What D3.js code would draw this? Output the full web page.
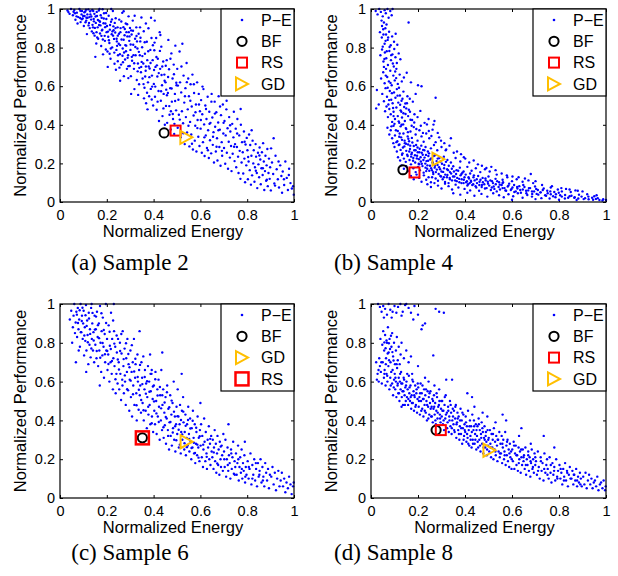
<!DOCTYPE html>
<html><head><meta charset="utf-8">
<script src="https://cdn.jsdelivr.net/npm/d3@7"></script>
<style>body{margin:0;background:#fff}</style></head>
<body><svg id="c" width="618" height="576"></svg>
<script>
// P-E scatter samples: flat pairs [energy, performance] in thousandths
const sample2PE=[32,992,41,975,47,1000,36,984,
55,968,61,995,66,944,72,981,78,958,83,1000,88,932,92,972,97,951,58,986,75,925,94,990,
102,912,105,964,108,987,112,940,115,870,118,955,121,998,124,928,127,901,130,972,133,945,136,884,139,918,142,990,145,936,148,862,111,996,126,958,141,905,147,975,
151,752,153,928,156,880,158,964,161,905,163,846,166,992,168,938,171,873,173,915,176,808,178,955,181,893,183,842,186,926,188,978,191,861,193,906,196,790,198,948,155,821,169,1000,184,765,192,835,199,880,
201,912,203,780,206,856,208,965,211,824,213,893,216,742,218,934,221,869,223,801,226,990,228,910,231,845,233,716,236,878,238,952,241,788,243,832,246,905,248,760,204,700,219,1000,229,890,239,685,247,862,
251,820,253,945,256,766,258,880,261,712,263,842,266,980,268,795,271,906,273,652,276,864,278,738,281,925,283,810,286,690,288,858,291,760,293,962,296,835,298,705,257,628,272,988,284,880,292,642,299,902,
301,788,303,652,306,868,308,732,311,940,313,815,316,690,318,585,321,846,323,760,326,905,328,632,331,795,333,718,336,872,338,610,341,760,343,832,346,672,348,956,304,560,319,965,334,555,342,905,349,726,
351,802,353,640,356,718,358,885,361,592,363,768,366,680,368,512,371,830,373,735,376,620,378,900,381,548,383,692,386,788,388,586,391,850,393,655,396,735,398,500,367,925,389,955,374,480,
401,612,403,786,406,545,408,700,411,850,413,478,416,650,418,742,421,575,423,420,426,880,428,690,431,525,433,805,436,605,438,445,441,728,443,560,446,660,448,400,405,940,429,865,
451,620,453,498,456,735,458,410,461,565,463,840,466,688,468,452,471,590,473,376,476,770,478,520,481,640,483,430,486,712,488,352,491,560,493,810,496,475,498,605,
501,690,503,385,506,530,508,452,511,780,513,620,516,335,518,568,521,470,523,820,526,408,528,655,531,515,533,300,536,590,538,440,541,720,543,360,546,480,548,640,
551,548,553,288,556,415,558,610,561,350,563,495,566,660,568,272,571,448,573,565,576,318,578,395,581,505,583,262,586,620,588,425,591,338,593,560,596,290,598,470,
601,380,603,528,606,255,608,455,611,310,613,585,616,402,618,238,621,500,623,345,626,430,628,280,631,545,633,372,636,228,638,468,641,320,643,410,646,252,648,560,
651,438,653,296,656,362,658,205,661,520,663,390,666,262,668,465,671,330,673,215,676,412,678,548,681,285,683,375,686,188,688,450,691,310,693,240,696,505,698,355,
701,280,703,420,706,198,708,345,711,480,713,255,716,382,718,172,721,312,723,440,726,230,728,365,731,290,733,160,736,405,738,250,741,335,743,468,746,212,748,300,
751,380,753,180,756,285,758,430,761,235,763,150,766,345,768,265,771,120,773,400,776,205,778,310,781,258,783,148,786,365,788,225,791,102,793,298,796,190,798,332,
801,268,803,118,806,210,808,350,811,165,813,295,816,90,818,240,821,138,823,318,826,200,828,268,831,105,833,180,836,300,838,235,841,150,843,72,846,255,848,195,
851,128,853,282,856,220,858,92,861,175,863,258,866,140,868,305,871,210,873,62,876,160,878,240,881,110,883,190,886,275,888,82,891,150,893,225,896,120,898,180,
901,60,906,205,911,145,916,96,921,240,926,170,931,118,936,75,941,190,946,135,949,48,913,330,
952,158,958,88,963,210,969,125,974,62,979,172,985,98,991,70,996,82,999,38,
64,978,71,962,87,991,93,947,104,983,109,931,117,972,122,915,134,961,138,995,144,948,149,902,157,985,162,943,167,917,174,968,179,889,187,951,194,925,197,979,113,955,129,988,152,961,171,934,182,999,99,964,86,953,143,874,159,852,177,861,
205,883,209,838,214,917,217,795,222,946,227,862,232,774,237,901,242,846,247,729,252,872,257,813,262,935,267,758,272,841,277,896,282,781,287,921,292,704,297,858,302,816,307,752,312,887,317,719,322,803,327,860,332,677,337,778,344,851,347,700,212,768,224,884,244,809,259,901,269,724,279,813,289,747,304,889,314,761,329,832,339,695,234,928,254,696,274,775,294,880,
352,756,357,611,362,828,367,702,372,566,377,781,382,647,387,720,392,531,397,812,402,684,407,598,412,751,417,520,422,668,427,783,432,574,437,702,442,485,447,628,452,706,457,553,462,648,467,497,472,742,477,588,482,456,487,662,492,523,497,618,359,537,379,702,394,598,414,708,434,658,454,582,474,470,489,405,364,650,404,826,
504,603,512,427,519,702,527,356,534,548,542,621,549,395,557,525,564,302,572,610,579,465,587,383,594,505,602,425,609,598,617,335,624,482,632,268,639,405,647,520,654,338,662,458,669,286,677,372,684,495,692,265,699,410,
712,525,727,398,744,286,757,355,772,482,789,312,804,233,819,372,837,162,852,241,867,175,884,115,902,278,919,85,934,210,957,118,978,140];

const sample4PE=[20,990,28,972,35,1000,42,985,50,962,58,994,63,978,70,1000,75,955,82,990,88,968,45,940,66,920,92,1000,55,930,
38,880,46,852,52,895,58,820,64,868,71,840,77,882,84,812,90,858,98,830,105,872,61,900,112,815,160,930,50,805,
40,760,47,790,53,728,59,775,65,745,72,710,78,782,85,735,91,765,97,702,104,750,110,720,118,770,125,740,55,700,
43,640,52,672,58,615,64,690,69,648,76,625,82,680,88,605,95,655,101,630,108,690,114,612,122,660,131,625,140,645,152,670,200,605,215,600,170,620,
25,580,48,560,55,522,62,590,68,545,74,505,80,575,86,530,92,512,98,568,104,540,110,585,116,515,123,552,130,525,138,572,146,510,155,548,165,535,178,520,190,560,22,485,33,505,275,540,
60,470,66,495,72,440,78,482,84,455,90,415,96,468,102,430,108,490,114,445,120,410,126,475,132,438,138,460,144,420,150,485,158,445,166,468,175,425,185,455,198,440,210,472,228,410,245,430,270,420,100,405,
70,385,78,350,84,372,90,330,96,395,102,345,108,310,114,368,120,338,126,392,132,322,138,355,144,305,150,378,156,340,162,315,168,365,174,332,182,388,190,350,198,318,206,372,215,340,224,312,235,355,248,330,262,375,275,310,290,335,95,305,130,400,
100,285,110,262,118,295,126,270,134,252,142,288,150,265,158,298,166,275,174,255,182,290,190,268,198,282,206,258,214,292,222,270,232,285,242,262,255,278,268,295,282,268,300,285,320,272,340,330,
115,232,124,215,132,245,140,225,148,208,156,238,164,218,172,248,180,228,188,205,196,240,204,222,212,210,220,245,228,230,236,212,244,238,252,220,262,205,272,242,284,225,296,210,310,235,325,218,340,205,360,228,380,210,395,232,
130,190,140,172,150,185,160,160,170,195,180,175,190,155,200,182,208,165,216,198,224,152,232,178,240,190,248,162,256,175,264,155,272,188,280,168,290,180,300,158,312,192,324,170,336,155,350,185,364,165,378,178,394,158,410,182,428,162,446,175,465,155,485,170,505,158,530,165,205,195,235,160,
170,135,182,118,194,142,205,125,215,105,225,138,235,115,245,128,255,102,265,145,275,122,285,110,295,135,305,118,315,104,325,140,335,125,345,112,355,132,365,108,375,120,385,145,395,115,405,102,415,128,425,110,438,138,450,118,462,105,475,125,488,112,500,132,515,108,530,120,545,102,560,115,580,128,600,108,620,118,645,105,670,112,700,108,680,145,260,128,310,128,
240,92,255,78,270,98,285,85,300,70,315,95,330,82,345,65,360,90,372,75,385,98,398,68,410,85,422,60,435,92,448,75,460,58,472,88,485,70,498,95,510,62,522,80,535,55,548,90,560,72,572,60,585,85,598,68,610,52,622,78,635,62,648,88,660,58,672,72,685,55,698,80,710,62,722,50,735,70,750,58,765,75,780,52,795,65,812,55,830,68,850,52,870,60,900,55,330,98,420,98,560,98,
350,45,380,38,410,48,440,32,470,42,495,28,520,45,545,35,565,25,585,40,605,30,625,45,645,22,665,36,685,28,705,42,725,20,745,32,765,40,785,25,805,35,825,18,845,30,865,22,885,38,905,15,925,28,945,12,965,20,985,8,1000,10,950,30,875,10,800,12,700,15,600,12,760,18,
47,912,53,868,62,835,67,781,73,852,79,803,86,761,93,718,99,793,103,676,57,741,63,655,71,592,77,528,83,617,89,564,94,487,107,642,113,551,119,592,124,504,129,468,134,535,141,492,147,456,153,512,161,478,168,426,96,445,118,418,87,392,106,372,122,355,137,402,148,383,157,362,173,395,184,412,193,378,
112,315,121,298,128,335,136,282,143,318,149,302,154,245,159,328,163,262,167,292,171,235,176,308,179,214,184,268,187,242,192,295,195,226,199,258,203,198,207,276,211,232,216,255,219,186,223,218,227,268,231,199,234,244,239,172,243,214,247,252,251,188,256,226,259,165,263,203,267,238,271,178,276,155,279,212,283,192,288,145,291,228,294,170,298,132,302,198,307,156,311,175,316,142,319,208,323,128,328,165,331,188,336,118,341,148,344,172,349,132,353,158,358,112,362,145,367,125,371,162,376,102,381,138,386,118,389,152,394,98,398,128,403,142,408,108,413,92,417,122,422,148,426,105,431,88,436,128,441,112,445,82,451,98,456,135,461,88,466,115,471,78,476,102,482,92,487,122,492,72,497,105,503,85,508,112,514,75,519,98,525,68,531,92,537,108,543,78,549,65,556,88,562,102,568,72,575,58,582,80,588,95,595,62,602,75,609,88,616,55,623,70,631,82,638,48,646,65,653,78,661,45,669,60,677,72,686,42,694,55,703,68,712,38,721,50,731,62,741,35,752,45,763,55,775,30,787,40,799,48,812,28,826,36,839,22,853,32,867,25,882,18,896,28,911,20,926,14,941,22,957,16,972,10,988,14,
212,395,221,358,238,402,246,368,257,342,266,401,284,358,298,318,312,305,318,268,334,292,352,255,366,262,383,248,401,225,418,205,437,215,455,195,472,188,491,176,512,182,535,142,556,148,578,138,602,132,628,128,655,122,690,98,728,88,770,82,810,72,845,65,880,58,920,40,960,35];

const sample6PE=[42,920,48,965,52,800,55,880,58,940,61,1000,64,850,67,905,70,960,73,830,76,980,79,870,82,920,85,780,88,1000,91,855,94,940,97,820,99,900,68,700,80,760,
101,965,103,735,106,880,108,810,111,995,113,760,116,915,118,840,121,690,123,955,126,790,128,870,131,725,133,980,136,820,138,900,141,760,143,855,146,700,148,940,112,650,135,1000,
151,790,153,870,156,720,158,960,161,830,163,680,166,900,168,760,171,990,173,800,176,650,178,860,181,735,183,930,186,780,188,620,191,845,193,700,196,1000,198,760,170,580,
201,820,203,660,206,740,208,890,211,600,213,785,216,700,218,955,221,640,223,820,226,560,228,720,231,860,233,680,236,780,238,540,241,640,243,750,246,590,248,820,230,1000,
251,700,253,560,256,800,258,640,261,505,263,745,266,610,268,860,271,680,273,540,276,770,278,600,281,480,283,720,286,650,288,820,291,555,293,690,296,450,298,610,
301,760,303,520,306,650,308,420,311,700,313,580,316,820,318,480,321,620,323,690,326,540,328,400,331,740,333,600,336,455,338,660,341,530,343,580,346,440,348,700,340,860,
351,620,353,490,356,730,358,400,361,560,363,660,366,450,368,590,371,360,373,520,376,680,378,430,381,600,383,480,386,380,388,550,391,640,393,420,396,510,398,340,385,740,392,660,
401,580,403,450,406,380,408,650,411,500,413,330,416,560,418,420,421,610,423,470,426,300,428,530,431,400,433,660,436,350,438,480,441,560,443,310,446,440,448,375,437,750,
451,520,453,280,456,410,458,580,461,350,463,460,466,250,468,390,471,530,473,320,476,430,478,270,481,490,483,360,486,600,488,300,491,420,493,240,496,380,498,470,
501,330,503,560,506,420,508,260,511,380,513,480,516,230,518,340,521,450,523,300,526,520,528,390,531,250,533,340,536,430,538,220,541,310,543,380,546,270,548,470,520,640,
551,330,553,240,556,410,558,290,561,200,563,360,566,260,568,450,571,310,573,230,576,380,578,180,581,280,583,340,586,220,588,420,591,260,593,310,596,190,598,350,600,490,
601,270,603,380,606,210,608,320,611,160,613,250,616,410,618,290,621,190,623,340,626,230,628,150,631,300,633,260,636,370,638,200,641,280,643,170,646,320,648,240,
651,210,653,300,656,150,658,260,661,350,663,190,666,280,668,130,671,230,673,320,676,170,678,250,681,120,683,290,686,200,688,160,691,270,693,220,696,140,698,330,
701,240,704,160,707,300,710,110,713,200,716,260,719,140,722,220,725,180,728,100,731,250,734,150,737,210,740,290,743,125,746,190,749,160,720,380,
752,230,755,120,758,180,761,270,764,90,767,160,770,210,773,130,776,250,779,100,782,180,785,140,788,220,791,80,794,160,797,120,790,290,
802,190,806,100,810,150,814,230,818,70,822,170,826,120,830,200,834,90,838,150,842,60,846,180,849,110,
853,140,857,200,861,80,865,160,869,110,873,60,877,180,881,130,885,90,889,150,893,50,897,120,
903,110,908,160,913,70,918,130,923,40,928,100,933,140,938,60,943,90,948,130,
953,60,958,100,963,30,968,80,974,50,979,110,985,70,990,20,996,60,999,80,
72,945,77,902,84,968,89,855,93,912,96,981,104,838,109,942,114,887,119,803,124,925,129,846,134,771,139,954,144,812,149,868,154,935,157,758,162,891,167,824,172,723,177,952,182,799,187,866,192,741,197,902,202,758,207,691,212,857,217,768,222,706,227,915,232,796,237,612,242,838,247,714,252,662,257,758,262,845,267,580,272,716,277,632,282,798,287,561,292,742,297,674,302,605,307,788,312,535,317,652,322,718,327,478,332,624,337,558,342,686,347,505,352,587,357,452,362,624,367,538,372,602,377,470,382,548,387,640,392,385,397,575,402,498,407,612,412,436,417,528,422,392,427,572,432,462,437,530,442,365,447,492,452,418,457,545,462,320,467,468,472,392,477,502,482,338,487,445,492,370,497,298,502,422,507,352,512,275,517,402,522,328,527,445,532,282,537,372,542,262,547,402,552,305,557,358,562,258,567,398,572,285,577,232,582,362,587,275,592,208,597,318,612,275,627,212,642,305,657,235,672,178,687,265,702,200,717,170,732,230,747,120,762,200,777,150,792,110,807,160,822,100,837,180,852,120,867,90];

const sample8PE=[30,1000,38,985,45,960,52,990,60,975,68,945,75,1000,82,970,92,960,100,990,108,955,115,985,125,1000,135,960,145,995,150,1000,160,980,170,955,185,990,200,945,215,870,220,890,265,735,275,975,290,960,310,955,55,930,88,930,130,940,180,920,230,900,
40,820,48,790,52,860,56,760,60,840,64,720,68,800,72,880,75,750,79,820,83,700,87,780,90,850,94,730,98,800,102,690,106,760,110,830,114,710,118,780,122,690,126,740,130,800,140,720,150,760,160,700,170,730,200,680,
22,700,28,640,33,600,38,680,42,650,46,590,50,700,55,620,58,660,62,580,66,640,70,600,74,680,78,560,82,620,86,650,90,590,94,530,98,610,25,610,35,720,
101,640,103,560,106,600,108,520,111,670,113,580,116,540,118,620,121,500,123,600,126,560,128,650,131,520,133,590,136,480,138,550,141,610,143,530,146,570,148,500,130,470,
151,600,153,520,156,560,158,480,161,630,163,540,166,500,168,580,171,460,173,530,176,610,178,490,181,550,183,450,186,520,188,580,191,480,193,540,196,440,198,510,175,640,
201,570,203,470,206,520,208,430,211,590,213,500,216,540,218,460,221,510,223,420,226,560,228,480,231,530,233,440,236,500,238,400,241,550,243,470,246,520,248,430,230,620,245,600,
251,490,253,550,256,420,258,470,261,510,263,390,266,460,268,530,271,430,273,490,276,380,278,450,281,520,283,410,286,470,288,370,291,500,293,430,296,390,298,460,270,580,290,560,
301,420,303,500,306,380,308,450,311,350,313,480,316,410,318,530,321,360,323,440,326,390,328,470,331,340,333,420,336,500,338,370,341,440,343,330,346,400,348,460,320,610,345,610,
351,380,353,450,356,340,358,410,361,480,363,310,366,390,368,440,371,350,373,420,376,300,378,370,381,460,383,330,386,400,388,280,391,360,393,430,396,320,398,380,
401,340,403,420,406,290,408,370,411,310,413,450,416,350,418,270,421,400,423,320,426,370,428,260,431,430,433,300,436,350,438,400,441,280,443,330,446,380,448,250,410,540,430,520,440,470,
451,320,453,370,456,260,458,410,461,300,463,350,466,240,468,330,471,390,473,280,476,340,478,230,481,310,483,370,486,260,488,320,491,290,493,220,496,350,498,270,475,440,495,420,
501,310,503,240,506,350,508,280,511,210,513,330,516,260,518,300,521,200,523,360,526,250,528,290,531,220,533,320,536,270,538,190,541,300,543,240,546,340,548,210,530,390,
551,280,553,230,556,320,558,180,561,260,563,300,566,200,568,240,571,340,573,170,576,270,578,220,581,300,583,190,586,250,588,160,591,280,593,210,596,240,598,150,560,430,575,400,
601,250,604,190,607,290,610,150,613,230,616,270,619,170,622,220,625,140,628,260,631,200,634,240,637,130,640,210,643,170,646,250,649,190,640,360,630,320,
651,220,654,150,657,260,660,120,663,200,666,170,669,240,672,140,675,210,678,110,681,180,684,250,687,150,690,200,693,130,696,230,699,170,680,280,
702,190,706,120,710,240,714,160,718,100,722,210,726,140,730,180,734,90,738,230,742,130,746,170,749,200,735,320,
752,150,756,100,760,210,764,130,768,80,772,180,776,120,780,160,784,90,788,200,792,110,796,140,780,260,
802,170,806,100,810,130,814,70,818,150,822,110,826,180,830,90,834,140,838,60,842,120,846,160,
853,100,857,140,861,70,865,120,869,90,873,150,877,60,881,110,885,80,889,130,893,100,897,60,
903,110,908,70,913,130,918,50,923,90,928,120,933,70,938,100,943,50,948,80,
953,90,958,60,963,110,968,40,974,70,979,80,985,50,990,90,996,40,999,60,
32,660,44,700,57,640,63,690,69,630,77,710,84,580,92,660,97,570,104,620,109,690,114,590,119,540,124,640,129,590,134,550,139,620,144,480,149,580,154,640,159,510,164,570,169,520,174,490,179,600,184,530,189,470,194,560,199,590,204,500,209,540,214,450,219,580,224,510,229,450,234,560,239,480,244,410,249,540,254,460,259,420,264,500,269,470,274,400,279,540,284,440,289,480,294,410,299,500,304,450,309,400,314,520,319,430,324,360,329,450,334,400,339,480,344,360,349,420,354,350,359,470,364,380,369,410,374,330,379,400,384,360,389,440,394,300,399,350,404,390,409,330,414,280,419,370,424,300,429,340,434,280,439,370,444,300,449,350,454,290,459,380,464,270,469,310,474,360,479,260,484,300,489,340,494,250,499,300,509,260,519,330,529,240,539,300,549,230,559,280,569,220,579,290,589,230,599,200,609,270,619,220,629,180,639,250,649,210,659,170,669,220,679,190,689,160,699,210,711,140,723,190,737,150,751,120,765,170,779,140,793,100,807,150,821,90,835,130,849,100,863,120,877,90,891,70,
62,772,66,812,71,745,76,798,81,768,85,836,91,752,96,709,57,802];

const samplesPE=[sample2PE,sample4PE,sample6PE,sample8PE];
const captions=["(a) Sample 2","(b) Sample 4","(c) Sample 6","(d) Sample 8"];
const bfE=[0.445,0.136,0.352,0.277], bfP=[0.358,0.167,0.31,0.35];
const rsE=[0.494,0.185,0.352,0.297], rsP=[0.37,0.153,0.31,0.35];
const gdE=[0.54,0.287,0.541,0.504], gdP=[0.335,0.222,0.29,0.246];
const legendOrders=[["P−E","BF","RS","GD"],["P−E","BF","RS","GD"],["P−E","BF","GD","RS"],["P−E","BF","RS","GD"]];
const tickValues=[0,0.2,0.4,0.6,0.8,1];
const tickLabels=["0","0.2","0.4","0.6","0.8","1"];
const xTitle="Normalized Energy", yTitle="Normalized Performance";

// layout
const boxes=[{l:60,r:294,t:9,b:202,cx:130,cy:270},{l:371,r:606,t:9,b:202,cx:393.5,cy:270},
             {l:60,r:294,t:304,b:498,cx:130,cy:560},{l:371,r:606,t:304,b:498,cx:393.5,cy:560}];
const SANS="'Liberation Sans', Arial, Helvetica, sans-serif";
const SERIF="'Liberation Serif', 'Times New Roman', serif";
const BLUE="#0000ff", RED="#ff0000", GOLD="#ffbf00";

const svg=d3.select("#c");
svg.append("rect").attr("width",618).attr("height",576).attr("fill","#fff");

const tri=d3.path(); tri.moveTo(-6,-6.5); tri.lineTo(-6,6.5); tri.lineTo(6,0); tri.closePath();

function drawMarker(g,kind,cx,cy,big){
  if(kind==="P−E") g.append("circle").attr("cx",cx).attr("cy",cy).attr("r",1.3).attr("fill",BLUE);
  else if(kind==="BF") g.append("circle").attr("cx",cx).attr("cy",cy).attr("r",4.6).attr("fill","none").attr("stroke","#000").attr("stroke-width",2);
  else if(kind==="RS"){ const s=big?13:10; g.append("rect").attr("x",cx-s/2).attr("y",cy-s/2).attr("width",s).attr("height",s).attr("fill","none").attr("stroke",RED).attr("stroke-width",big?2.5:2); }
  else if(kind==="GD") g.append("path").attr("d",tri.toString()).attr("transform",`translate(${cx},${cy})`).attr("fill","none").attr("stroke",GOLD).attr("stroke-width",2).attr("stroke-linejoin","miter");
}

boxes.forEach((bx,i)=>{
  const g=svg.append("g");
  const x=d3.scaleLinear().domain([0,1]).range([bx.l,bx.r]);
  const y=d3.scaleLinear().domain([0,1]).range([bx.b,bx.t]);
  const arr=samplesPE[i];
  const pts=d3.range(arr.length/2).map(k=>[arr[2*k]/1000,arr[2*k+1]/1000]);
  const big=(i===2);

  const fmt=(d,k)=>tickLabels[k];
  const ax=[
    g.append("g").attr("transform",`translate(0,${bx.b})`).call(d3.axisBottom(x).tickValues(tickValues).tickFormat(fmt).tickSize(-3).tickSizeOuter(0).tickPadding(8)),
    g.append("g").attr("transform",`translate(0,${bx.t})`).call(d3.axisTop(x).tickValues(tickValues).tickFormat(()=>"").tickSize(-3).tickSizeOuter(0)),
    g.append("g").attr("transform",`translate(${bx.l},0)`).call(d3.axisLeft(y).tickValues(tickValues).tickFormat(fmt).tickSize(-3).tickSizeOuter(0).tickPadding(5)),
    g.append("g").attr("transform",`translate(${bx.r},0)`).call(d3.axisRight(y).tickValues(tickValues).tickFormat(()=>"").tickSize(-3).tickSizeOuter(0))
  ];
  ax.forEach(a=>{a.attr("font-family",SANS).attr("font-size",14.5).attr("color","#000");
    a.selectAll(".domain").remove(); a.selectAll(".tick line").attr("stroke-width",1);});

  g.append("g").selectAll("circle").data(pts).join("circle")
    .attr("cx",d=>x(d[0])).attr("cy",d=>y(d[1])).attr("r",1.2).attr("fill",BLUE);

  g.append("rect").attr("x",bx.l).attr("y",bx.t).attr("width",bx.r-bx.l).attr("height",bx.b-bx.t)
    .attr("fill","none").attr("stroke","#000").attr("stroke-width",1.2);

  drawMarker(g,"BF",x(bfE[i]),y(bfP[i]),big);
  drawMarker(g,"RS",x(rsE[i]),y(rsP[i]),big);
  drawMarker(g,"GD",x(gdE[i]),y(gdP[i]),big);

  g.append("text").attr("x",(bx.l+bx.r)/2-4).attr("y",bx.b+35).attr("text-anchor","middle")
    .attr("font-family",SANS).attr("font-size",16.5).text(xTitle);
  g.append("text").attr("transform",`translate(${bx.l-34},${(bx.t+bx.b)/2}) rotate(-90)`).attr("text-anchor","middle")
    .attr("font-family",SANS).attr("font-size",16.5).text(yTitle);

  const lw=73, lh=87, lx=bx.r-lw, ly=bx.t;
  const lg=g.append("g");
  lg.append("rect").attr("x",lx).attr("y",ly).attr("width",lw).attr("height",lh).attr("fill","#fff").attr("stroke","#000").attr("stroke-width",1.2);
  legendOrders[i].forEach((name,k)=>{
    const cy=ly+11+k*21.3;
    drawMarker(lg,name,lx+21,cy,big);
    lg.append("text").attr("x",lx+40).attr("y",cy).attr("dy","0.36em").attr("font-family",SANS).attr("font-size",16).text(name);
  });

  svg.append("text").attr("x",bx.cx).attr("y",bx.cy).attr("text-anchor","middle")
    .attr("font-family",SERIF).attr("font-size",23).text(captions[i]);
});
</script></body></html>
